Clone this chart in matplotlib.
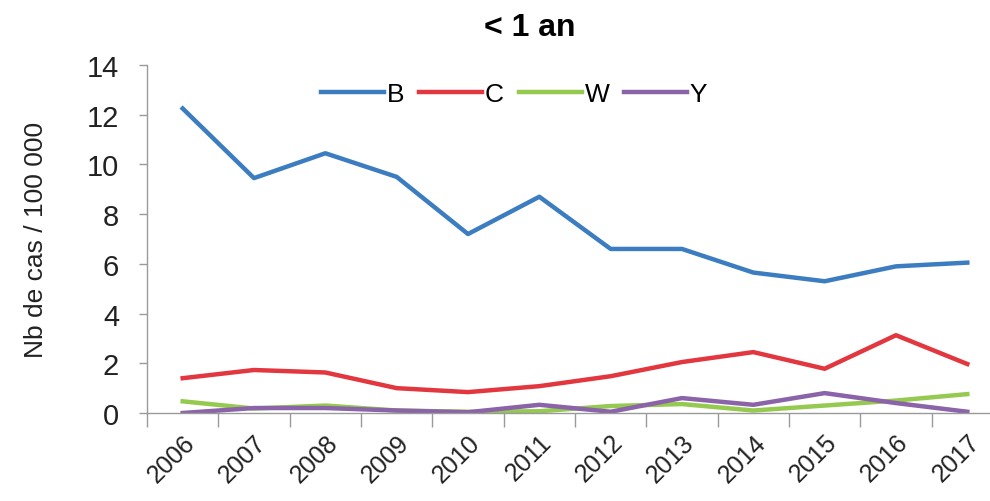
import numpy as np
import matplotlib.pyplot as plt

plt.rcParams['font.family'] = ['Liberation Sans', 'DejaVu Sans']

years = ['2006', '2007', '2008', '2009', '2010', '2011',
         '2012', '2013', '2014', '2015', '2016', '2017']
b_vals = [12.25, 9.45, 10.45, 9.5, 7.2, 8.7, 6.6, 6.6, 5.65, 5.3, 5.9, 6.05]
c_vals = [1.4, 1.73, 1.63, 1.0, 0.84, 1.08, 1.48, 2.05, 2.45, 1.78, 3.13, 1.97]
w_vals = [0.47, 0.18, 0.3, 0.1, 0.05, 0.07, 0.28, 0.36, 0.1, 0.3, 0.5, 0.76]
y_vals = [0.0, 0.2, 0.2, 0.1, 0.03, 0.33, 0.05, 0.6, 0.33, 0.8, 0.4, 0.05]

series = [('B', b_vals, '#3b7dc0'),
          ('C', c_vals, '#e2373f'),
          ('W', w_vals, '#95c94f'),
          ('Y', y_vals, '#8a63a8')]

fig = plt.figure(figsize=(9.9, 5.02), dpi=100)
ax = fig.add_axes([0.1485, 0.1753, 0.8646, 0.6932])

x = np.arange(len(years))
for name, vals, col in series:
    ax.plot(x, vals, color=col, lw=3.2, label=name)

ax.set_xlim(-0.5, len(years) - 0.5)
ax.set_ylim(0, 14)
ax.set_yticks(range(0, 15, 2))

# category labels on the points, tick marks between categories
ax.set_xticks(x)
ax.set_xticklabels(years, rotation=45, ha='right', va='top', rotation_mode='anchor')
ax.set_xticks(np.arange(-0.5, len(years), 1), minor=True)
ax.tick_params(axis='x', which='major', length=0, pad=12, labelsize=18, labelcolor='#222222')
ax.tick_params(axis='x', which='minor', length=10, color='#9a9a9a', width=1)
ax.tick_params(axis='y', length=6, color='#9a9a9a', width=1, labelsize=21, pad=14,
               labelcolor='#222222')

for s in ['top', 'right']:
    ax.spines[s].set_visible(False)
for s in ['left', 'bottom']:
    ax.spines[s].set_color('#9a9a9a')
    ax.spines[s].set_linewidth(1)

ax.set_ylabel('Nb de cas / 100 000', fontsize=19, labelpad=28, color='#222222')
fig.text(0.535, 0.944, '< 1 an', ha='center', va='center',
         fontsize=23, fontweight='bold')

ax.legend(loc='upper center', bbox_to_anchor=(0.429, 1.0), ncol=4, frameon=False,
          fontsize=19, handlelength=2.4, handletextpad=0.1, columnspacing=0.55,
          borderaxespad=0.25)

fig.savefig('out.png', dpi=100)
